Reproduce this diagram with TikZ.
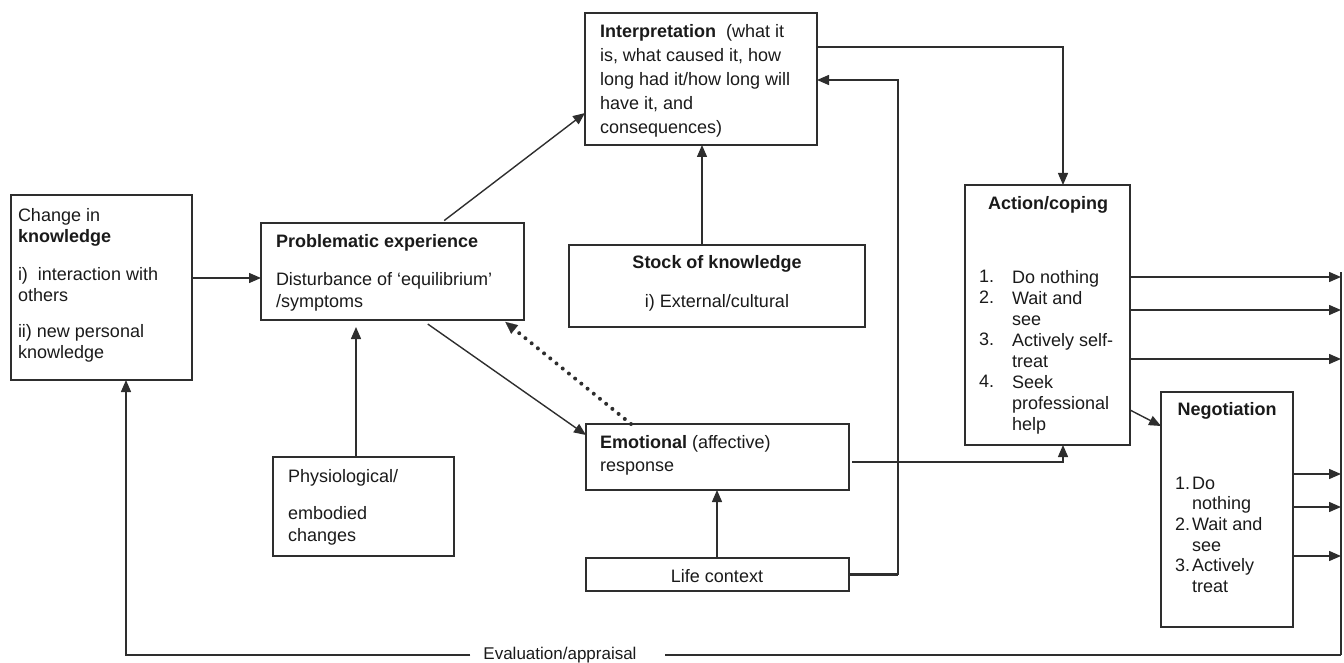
\documentclass[tikz,border=0pt]{standalone}
\usepackage{fontspec}
\setmainfont{Liberation Sans}
\usetikzlibrary{arrows.meta}
\definecolor{ink}{HTML}{1A1A1A}
\definecolor{lnc}{HTML}{2E2E2E}
\tikzset{
  box/.style={draw=lnc, line width=1.4pt, anchor=north west, inner sep=0pt, outer sep=0pt},
  txt/.style={anchor=north west, inner sep=0pt, outer sep=0pt, align=left, text=ink},
  conn/.style={draw=lnc, line width=1.4pt},
  arr/.style={conn, -{Triangle[length=12pt,width=10pt]}},
}
\begin{document}
\begin{tikzpicture}[x=1pt,y=-1pt]
\useasboundingbox (0,0) rectangle (1344,663);
% boxes
\node[box, minimum width=232pt, minimum height=132pt] (interp) at (585,13) {};
\node[box, minimum width=296pt, minimum height=82pt] (stock) at (569,245) {};
\node[box, minimum width=263pt, minimum height=97pt] (prob) at (261,223) {};
\node[box, minimum width=181pt, minimum height=185pt] (know) at (11,195) {};
\node[box, minimum width=181pt, minimum height=99pt] (phys) at (273,457) {};
\node[box, minimum width=263pt, minimum height=66pt] (emo) at (586,424) {};
\node[box, minimum width=263pt, minimum height=33pt] (life) at (586,558) {};
\node[box, minimum width=165pt, minimum height=260pt] (act) at (965,185) {};
\node[box, minimum width=132pt, minimum height=235pt] (neg) at (1161,392) {};
% texts
\node[txt, font=\fontsize{18}{24}\selectfont] (tinterp) at (600,24)
  {\textbf{Interpretation}\ \ (what it\\is, what caused it, how\\long had it/how long will\\have it, and\\consequences)};
\node[txt, font=\fontsize{18}{22}\selectfont] (tprob) at (276,234)
  {\textbf{Problematic experience}\\[16pt]Disturbance of ‘equilibrium’\\/symptoms};
\node[txt, anchor=north, align=center, font=\fontsize{18}{22}\selectfont] (tstock) at (717,255)
  {\textbf{Stock of knowledge}\\[17pt]i) External/cultural};
\node[txt, font=\fontsize{18}{21.5}\selectfont] (tknow) at (18,208)
  {Change in\\\textbf{knowledge}\\[16pt]i)\ \ interaction with\\others\\[14pt]ii) new personal\\knowledge};
\node[txt, font=\fontsize{18}{22}\selectfont] (tphys) at (288,469)
  {Physiological/\\[15pt]embodied\\changes};
\node[txt, font=\fontsize{18}{23}\selectfont] (temo) at (600,435)
  {\textbf{Emotional} (affective)\\response};
\node[txt, anchor=base, font=\fontsize{18}{22}\selectfont] (tlife) at (717,582) {Life context};
\node[txt, anchor=base, font=\fontsize{18}{22}\selectfont\bfseries] (tact) at (1048,210) {Action/coping};
\node[txt, font=\fontsize{18}{21}\selectfont] (tactn) at (979,270) {1.\\2.\\[21pt]3.\\[21pt]4.};
\node[txt, font=\fontsize{18}{21}\selectfont] (tactl) at (1012,270)
  {Do nothing\\Wait and\\see\\Actively self-\\treat\\Seek\\professional\\help};
\node[txt, anchor=base, font=\fontsize{18}{22}\selectfont\bfseries] (tneg) at (1227,415) {Negotiation};
\node[txt, font=\fontsize{18}{20.6}\selectfont] (tnegn) at (1175,477) {1.\\[20.6pt]2.\\[20.6pt]3.};
\node[txt, font=\fontsize{18}{20.6}\selectfont] (tnegl) at (1192,477)
  {Do\\nothing\\Wait and\\see\\Actively\\treat};
\node[txt, anchor=center, font=\fontsize{17}{20}\selectfont] (eval) at (560,655) {Evaluation/appraisal};
\coordinate (bus) at (1341,655);
% connectors
\draw[arr] (know.east |- 0,278) -- (prob.west |- 0,278);
\draw[arr, shorten <=4pt] (prob.north -| 441,0) -- (interp.west |- 0,113);
\draw[arr] (stock.north -| 702,0) -- (interp.south -| 702,0);
\draw[arr, shorten >=7pt] (phys.north -| 356,0) -- (prob.south -| 356,0);
\draw[arr, shorten <=7pt] (prob.south -| 422,0) -- (emo.west |- 0,435);
\draw[lnc, line width=4pt, dash pattern=on 0pt off 8pt, line cap=round,
  -{Triangle[length=12pt,width=11pt,line width=0.1pt]}, shorten >=3pt] (emo.north -| 631,0) -- (prob.south -| 503,0);
\draw[arr] (life.north -| 717,0) -- (emo.south -| 717,0);
\draw[conn, line width=2.2pt] (life.east) -- (898,0 |- life.east);
\draw[arr] (898,0 |- life.east) -- (898,80) -- (interp.east |- 0,80);
\draw[arr, shorten <=3pt] (emo.east |- 0,462) -| (act.south -| 1063,0);
\draw[arr] (interp.east |- 0,47) -| (act.north -| 1063,0);
\draw[arr] (act.east |- 0,277) -- (bus |- 0,277);
\draw[arr] (act.east |- 0,310) -- (bus |- 0,310);
\draw[arr] (act.east |- 0,359) -- (bus |- 0,359);
\draw[arr] (act.east |- 0,410) -- (neg.west |- 0,426);
\draw[arr] (neg.east |- 0,474) -- (bus |- 0,474);
\draw[arr] (neg.east |- 0,507) -- (bus |- 0,507);
\draw[arr] (neg.east |- 0,556) -- (bus |- 0,556);
\draw[conn] (bus |- 0,272) -- (bus);
\draw[conn, line width=2.2pt, shorten >=28pt] (bus) -- (eval.east);
\draw[arr, shorten <=13pt] (eval.west) -| (know.south -| 126,0);
\end{tikzpicture}
\end{document}
